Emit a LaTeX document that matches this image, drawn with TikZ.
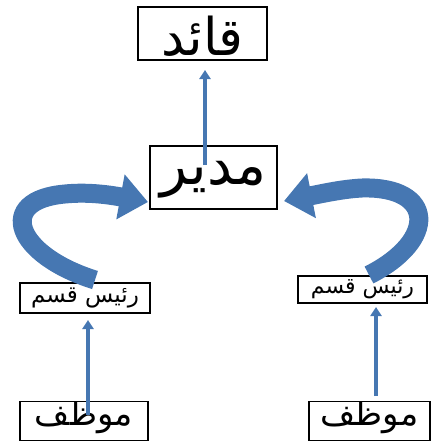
\documentclass[tikz,border=0pt]{standalone}
\usepackage{fontspec}
\newfontfamily\arabicfont[Script=Arabic]{DejaVu Sans}
\TeXXeTstate=1
\usetikzlibrary{arrows.meta}
\definecolor{arrblue}{HTML}{4677B2}
\tikzset{
  box/.style={draw=black, line width=1.4pt, inner sep=0pt, fill=white},
  artext/.style={inner sep=0pt, font=\arabicfont},
  uparrow/.style={draw=arrblue, line width=3.5pt, -{Triangle[length=9pt,width=11pt]}},
  bigarrow/.style={draw=arrblue, line width=19pt, -{Triangle[length=28pt,width=44pt]}}
}
\begin{document}
\begin{tikzpicture}[x=1pt,y=-1pt]
\useasboundingbox (0,0) rectangle (431,444);
% boxes
\node[box, minimum width=129pt, minimum height=53pt,
  path picture={\node[artext] (toptext) at ([yshift=-3pt]path picture bounding box.center) {\fontsize{52}{52}\selectfont\beginR قائد\endR};}]
  (top) at (202.5,33.5) {};
\node[box, minimum width=127pt, minimum height=63pt,
  path picture={\node[artext] (midtext) at ([yshift=-2pt]path picture bounding box.center) {\fontsize{56}{56}\selectfont\beginR مدير\endR};}]
  (mid) at (213.5,177.5) {};
\node[box, minimum width=130pt, minimum height=30pt,
  path picture={\node[artext] (ltext) at ([yshift=0pt]path picture bounding box.center) {\fontsize{23}{23}\selectfont\beginR رئيس قسم\endR};}]
  (lbox) at (85,298) {};
\node[box, minimum width=129pt, minimum height=27pt,
  path picture={\node[artext] (rtext) at ([yshift=0pt]path picture bounding box.center) {\fontsize{22}{22}\selectfont\beginR رئيس قسم\endR};}]
  (rbox) at (362.5,289.5) {};
\node[box, minimum width=128pt, minimum height=39pt,
  path picture={\node[artext] (bltext) at ([yshift=4pt]path picture bounding box.center) {\fontsize{34}{34}\selectfont\beginR موظف\endR};}]
  (blbox) at (84,421) {};
\node[box, minimum width=121pt, minimum height=39pt,
  path picture={\node[artext] (brtext) at ([yshift=4pt]path picture bounding box.center) {\fontsize{34}{34}\selectfont\beginR موظف\endR};}]
  (brbox) at (369.5,421) {};
% vertical arrows
\coordinate (topend) at (205,70);
\draw[uparrow] (205,165) -- (topend);
\coordinate (lend) at (88,320);
\draw[uparrow] (88,415) -- (lend);
\coordinate (rend) at (376,307);
\draw[uparrow] (376,396) -- (rend);
% curved arrows
\coordinate (lstart) at (95,280);
\coordinate (ltip) at (148,202);
\draw[bigarrow] (lstart) .. controls (15,255) and (-5,200) .. (65,194) .. controls (85,192) and (105,194) .. (ltip);
\coordinate (rstart) at (369,275);
\coordinate (rtip) at (284,201);
\draw[bigarrow] (rstart) .. controls (438,240) and (435,186) .. (362,188) .. controls (343,189) and (325,193) .. (rtip);
\end{tikzpicture}
\end{document}
